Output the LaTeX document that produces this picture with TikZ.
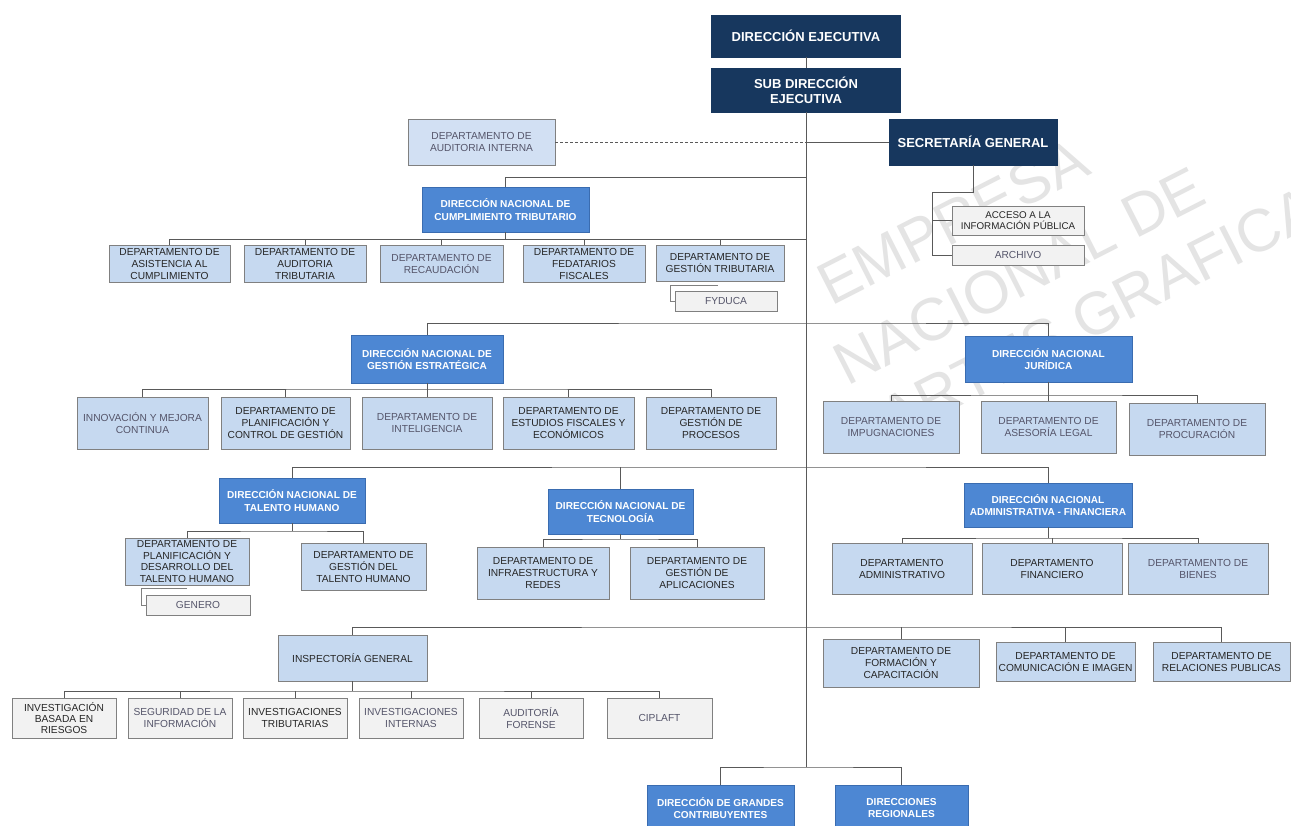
\documentclass[tikz,border=0pt]{standalone}
\usepackage{fontspec}
\setmainfont{Liberation Sans}
\definecolor{navyc}{HTML}{17375E}
\definecolor{midc}{HTML}{4D87D3}
\definecolor{midb}{HTML}{3A6CB0}
\definecolor{lightc}{HTML}{C6D9F0}
\definecolor{audc}{HTML}{D2E0F3}
\definecolor{grayc}{HTML}{F2F2F2}
\definecolor{bordc}{HTML}{808080}
\definecolor{txtc}{HTML}{262626}
\definecolor{fadec}{HTML}{55556A}
\definecolor{linec}{HTML}{595959}
\definecolor{wmc}{HTML}{E4E4E4}
\begin{document}
\begin{tikzpicture}[x=1pt,y=-1pt,
  box/.style={draw, line width=0.8pt, inner sep=0.5pt, align=center, font=\fontsize{10.2}{12}\selectfont},
  navy/.style={box, fill=navyc, draw=navyc, text=white, font=\bfseries\fontsize{13}{15}\selectfont},
  mid/.style={box, fill=midc, draw=midb, text=white, font=\bfseries\fontsize{10.1}{12.5}\selectfont},
  light/.style={box, fill=lightc, draw=bordc, text=txtc},
  lightf/.style={light, text=fadec},
  grayb/.style={box, fill=grayc, draw=bordc, text=txtc, font=\fontsize{10.2}{11.3}\selectfont},
  grayf/.style={grayb, text=fadec},
  conn/.style={draw=linec, line width=0.9pt},
  wm/.style={text=wmc, font=\fontsize{60}{64}\selectfont, rotate=27, anchor=south west}]
\useasboundingbox (0,0) rectangle (1291,826);
\fill[white] (0,0) rectangle (1291,826);
% watermark
\node[wm] (w1) at (830,312) {EMPRESA};
\node[wm] (w2) at (846,392) {NACIONAL DE};
\node[wm] (w3) at (892,446) {ARTES GRAFICAS};
% top
\node[navy, minimum width=189pt, minimum height=42pt] (de) at (806,36) {DIRECCIÓN EJECUTIVA};
\node[navy, minimum width=189pt, minimum height=44pt] (sde) at (806,90) {SUB DIRECCIÓN\\EJECUTIVA};
\node[box, fill=audc, draw=bordc, text=fadec, minimum width=147pt, minimum height=46pt] (aud) at (481.5,142) {DEPARTAMENTO DE\\AUDITORIA INTERNA};
\node[navy, minimum width=168pt, minimum height=46pt] (sec) at (973,142) {SECRETARÍA GENERAL};
\node[grayb, minimum width=132pt, minimum height=29pt, font=\fontsize{9.8}{11.3}\selectfont] (acc) at (1018,220.5) {ACCESO A LA\\INFORMACIÓN PÚBLICA};
\node[grayf, minimum width=132pt, minimum height=20pt] (arc) at (1018,255) {ARCHIVO};
% cumplimiento
\node[mid, minimum width=167pt, minimum height=45pt] (dnct) at (505.5,209.5) {DIRECCIÓN NACIONAL DE\\CUMPLIMIENTO TRIBUTARIO};
\node[light, minimum width=121pt, minimum height=37pt] (ct1) at (169.5,263.5) {DEPARTAMENTO DE\\ASISTENCIA AL\\CUMPLIMIENTO};
\node[light, minimum width=122pt, minimum height=37pt] (ct2) at (305,263.5) {DEPARTAMENTO DE\\AUDITORIA\\TRIBUTARIA};
\node[lightf, minimum width=123pt, minimum height=37pt] (ct3) at (441.5,263.5) {DEPARTAMENTO DE\\RECAUDACIÓN};
\node[light, minimum width=122pt, minimum height=37pt] (ct4) at (584,263.5) {DEPARTAMENTO DE\\FEDATARIOS\\FISCALES};
\node[light, minimum width=128pt, minimum height=36pt] (ct5) at (720,263) {DEPARTAMENTO DE\\GESTIÓN TRIBUTARIA};
\node[grayf, minimum width=102pt, minimum height=20pt] (fyd) at (726,301) {FYDUCA};
% gestion estrategica
\node[mid, minimum width=152pt, minimum height=48pt] (dnge) at (427,359) {DIRECCIÓN NACIONAL DE\\GESTIÓN ESTRATÉGICA};
\node[lightf, minimum width=131pt, minimum height=52pt] (ge1) at (142.5,423) {INNOVACIÓN Y MEJORA\\CONTINUA};
\node[light, minimum width=129pt, minimum height=52pt] (ge2) at (285.5,423) {DEPARTAMENTO DE\\PLANIFICACIÓN Y\\CONTROL DE GESTIÓN};
\node[lightf, minimum width=130pt, minimum height=52pt] (ge3) at (427,423) {DEPARTAMENTO DE\\INTELIGENCIA};
\node[light, minimum width=131pt, minimum height=52pt] (ge4) at (568.5,423) {DEPARTAMENTO DE\\ESTUDIOS FISCALES Y\\ECONÓMICOS};
\node[light, minimum width=130pt, minimum height=52pt] (ge5) at (711,423) {DEPARTAMENTO DE\\GESTIÓN DE\\PROCESOS};
% juridica
\node[mid, minimum width=167pt, minimum height=46pt] (dnj) at (1048.5,359) {DIRECCIÓN NACIONAL\\JURÍDICA};
\node[lightf, minimum width=136pt, minimum height=52pt] (j1) at (891,427) {DEPARTAMENTO DE\\IMPUGNACIONES};
\node[lightf, minimum width=135pt, minimum height=52pt] (j2) at (1048.5,427) {DEPARTAMENTO DE\\ASESORÍA LEGAL};
\node[lightf, minimum width=136pt, minimum height=52pt] (j3) at (1197,429) {DEPARTAMENTO DE\\PROCURACIÓN};
% talento humano
\node[mid, minimum width=146pt, minimum height=45pt] (dnth) at (292,500.5) {DIRECCIÓN NACIONAL DE\\TALENTO HUMANO};
\node[light, minimum width=124pt, minimum height=47pt, font=\fontsize{10.2}{11.4}\selectfont] (th1) at (187,561.5) {DEPARTAMENTO DE\\PLANIFICACIÓN Y\\DESARROLLO DEL\\TALENTO HUMANO};
\node[light, minimum width=125pt, minimum height=47pt] (th2) at (363.5,566.5) {DEPARTAMENTO DE\\GESTIÓN DEL\\TALENTO HUMANO};
\node[grayf, minimum width=104pt, minimum height=20pt] (gen) at (198,605) {GENERO};
% tecnologia
\node[mid, minimum width=145pt, minimum height=45pt] (dnt) at (620.5,511.5) {DIRECCIÓN NACIONAL DE\\TECNOLOGÍA};
\node[light, minimum width=132pt, minimum height=52pt] (t1) at (543,573) {DEPARTAMENTO DE\\INFRAESTRUCTURA Y\\REDES};
\node[light, minimum width=134pt, minimum height=52pt] (t2) at (697,573) {DEPARTAMENTO DE\\GESTIÓN DE\\APLICACIONES};
% administrativa
\node[mid, minimum width=168pt, minimum height=44pt] (dna) at (1048,505) {DIRECCIÓN NACIONAL\\ADMINISTRATIVA - FINANCIERA};
\node[light, minimum width=140pt, minimum height=51pt] (a1) at (902,568.5) {DEPARTAMENTO\\ADMINISTRATIVO};
\node[light, minimum width=140pt, minimum height=51pt] (a2) at (1052,568.5) {DEPARTAMENTO\\FINANCIERO};
\node[lightf, minimum width=140pt, minimum height=51pt] (a3) at (1198,568.5) {DEPARTAMENTO DE\\BIENES};
% formacion etc
\node[light, minimum width=156pt, minimum height=48pt] (f1) at (901,663) {DEPARTAMENTO DE\\FORMACIÓN Y\\CAPACITACIÓN};
\node[light, minimum width=139pt, minimum height=39pt] (f2) at (1065.5,661.5) {DEPARTAMENTO DE\\COMUNICACIÓN E IMAGEN};
\node[light, minimum width=137pt, minimum height=39pt] (f3) at (1221.5,661.5) {DEPARTAMENTO DE\\RELACIONES PUBLICAS};
% inspectoria
\node[light, minimum width=149pt, minimum height=46pt] (ins) at (352.5,658) {INSPECTORÍA GENERAL};
\node[grayb, minimum width=104pt, minimum height=40pt] (i1) at (64,718) {INVESTIGACIÓN\\BASADA EN\\RIESGOS};
\node[grayf, minimum width=104pt, minimum height=40pt] (i2) at (180,718) {SEGURIDAD DE LA\\INFORMACIÓN};
\node[grayb, minimum width=104pt, minimum height=40pt] (i3) at (295,718) {INVESTIGACIONES\\TRIBUTARIAS};
\node[grayf, minimum width=104pt, minimum height=40pt] (i4) at (411,718) {INVESTIGACIONES\\INTERNAS};
\node[grayf, minimum width=104pt, minimum height=40pt] (i5) at (531,718) {AUDITORÍA\\FORENSE};
\node[grayf, minimum width=105pt, minimum height=40pt] (i6) at (659.5,718) {CIPLAFT};
% bottom
\node[mid, minimum width=147pt, minimum height=46pt] (dgc) at (720.5,808) {DIRECCIÓN DE GRANDES\\CONTRIBUYENTES};
\node[mid, minimum width=133pt, minimum height=46pt] (dr) at (901.5,808) {DIRECCIONES\\REGIONALES};
% ---- connectors
\coordinate (L6) at (806,767);
\draw[conn] (de.south) -- (sde.north);
\draw[conn] (sde.south) -- (L6);
\draw[conn, dashed, dash pattern=on 3pt off 2pt] (aud.east) -- (aud.east -| sde.south);
\draw[conn] (aud.east -| sde.south) -- (sec.west);
\coordinate (s2) at (932,192);
\draw[conn] (sec.south) |- (s2) |- (arc.west);
\draw[conn] (s2 |- acc.west) -- (acc.west);
% cumplimiento
\coordinate (L1) at (806,177);
\draw[conn] (L1) -| (dnct.north);
\coordinate (L2) at (806,239);
\draw[conn] (L2) -| (ct1.north);
\draw[conn] (dnct.south) -- (dnct.south |- L2);
\foreach \n in {ct2,ct3,ct4,ct5} \draw[conn] (\n.north) -- (\n.north |- L2);
\coordinate (fy1) at (718,285);
\coordinate (fy2) at (670,285);
\draw[conn, draw=bordc] (fy1) -- (fy2) |- (fyd.west);
% level 323
\coordinate (L3) at (806,323);
\draw[conn] (dnge.north) |- (L3) -| (dnj.north);
\coordinate (gek) at (427,389);
\draw[conn] (dnge.south) -- (gek);
\draw[conn] (ge1.north) |- (gek) -| (ge5.north);
\foreach \n in {ge2,ge3,ge4} \draw[conn] (\n.north) -- (\n.north |- gek);
\coordinate (jk) at (1048.5,395);
\draw[conn] (dnj.south) -- (jk);
\draw[conn] (j1.north) |- (jk) -| (j3.north);
\draw[conn] (j2.north) -- (j2.north |- jk);
% level 467
\coordinate (L4) at (806,467);
\draw[conn] (dnth.north) |- (L4) -| (dna.north);
\draw[conn] (dnt.north) -- (dnt.north |- L4);
\coordinate (thk) at (292,531);
\draw[conn] (dnth.south) -- (thk);
\draw[conn] (th1.north) |- (thk) -| (th2.north);
\coordinate (g1) at (187,588);
\coordinate (g2) at (141,588);
\draw[conn, draw=bordc] (g1) -- (g2) |- (gen.west);
\coordinate (tk) at (620.5,539);
\draw[conn] (dnt.south) -- (tk);
\draw[conn] (t1.north) |- (tk) -| (t2.north);
\coordinate (ak) at (1048,538);
\draw[conn] (dna.south) -- (ak);
\draw[conn] (a1.north) |- (ak) -| (a3.north);
\draw[conn] (a2.north) -- (a2.north |- ak);
% level 627
\coordinate (L5) at (806,627);
\draw[conn] (ins.north) |- (L5) -| (f3.north);
\foreach \n in {f1,f2} \draw[conn] (\n.north) -- (\n.north |- L5);
\coordinate (ik) at (352.5,691);
\draw[conn] (ins.south) -- (ik);
\draw[conn] (i1.north) |- (ik) -| (i6.north);
\foreach \n in {i2,i3,i4,i5} \draw[conn] (\n.north) -- (\n.north |- ik);
% bottom
\draw[conn] (dgc.north) |- (L6) -| (dr.north);
\end{tikzpicture}
\end{document}
